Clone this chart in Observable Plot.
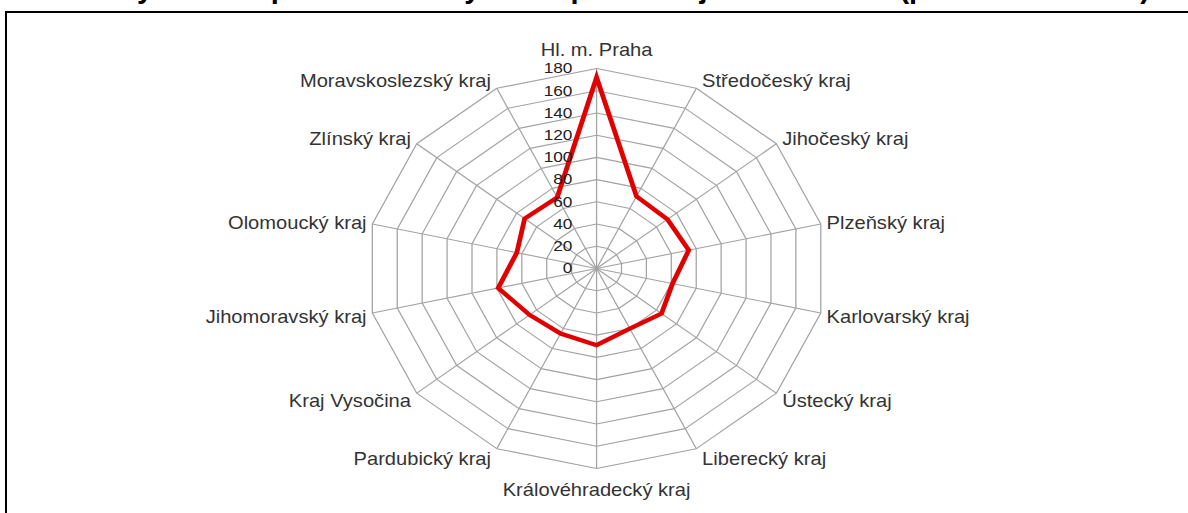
<!DOCTYPE html>
<html><head><meta charset="utf-8">
<script src="https://cdn.jsdelivr.net/npm/d3@7"></script>
<script src="https://cdn.jsdelivr.net/npm/@observablehq/plot@0.6"></script>
<style>
html,body{margin:0;padding:0;background:#fff;overflow:hidden;}
#wrap{position:relative;width:1188px;height:513px;overflow:hidden;background:#fff;}
#frame{position:absolute;left:5px;top:11px;width:1400px;height:700px;border-top:2px solid #000;border-left:2px solid #000;}
#title{position:absolute;left:0;top:0;overflow:hidden;}
#chart{position:absolute;left:0;top:0;transform:scaleX(1.15);transform-origin:0 0;}
</style></head><body>
<div id="wrap">
<div id="frame"></div>
<svg id="title" width="1188" height="11"><text x="1150" y="-2.5" text-anchor="end" font-family="Liberation Sans, Arial, sans-serif" font-weight="bold" font-size="29" fill="#000">Graf č. 1: Hrubý domácí produkt na obyvatele podle krajů v roce 2010 (průměr ČR = 100)</text></svg>
<div id="chart"></div>
</div>
<script>
const regions = ["Hl. m. Praha","Středočeský kraj","Jihočeský kraj","Plzeňský kraj","Karlovarský kraj","Ústecký kraj","Liberecký kraj","Královéhradecký kraj","Pardubický kraj","Kraj Vysočina","Jihomoravský kraj","Olomoucký kraj","Zlínský kraj","Moravskoslezský kraj"];
const values = [172, 72, 71, 74, 61, 65, 60, 69, 65, 67, 79, 64, 72, 71];
const ticks = [0, 20, 40, 60, 80, 100, 120, 140, 160, 180];
const maxValue = 180;

const stretch = 1.15;
const W = 1188 / stretch;
const cx = 596 / stretch, cy = 268, R = 200;
const unit = R / maxValue; // px per data unit
const n = regions.length;
const ang = i => i * 2 * Math.PI / n;
const pt = (i, v) => ({x: v * Math.sin(ang(i)), y: v * Math.cos(ang(i))});

const rings = ticks.filter(t => t > 0).flatMap(t => regions.map((r, i) => ({...pt(i, t), ring: t})));
const series = regions.map((r, i) => ({...pt(i, values[i]), name: r}));

function labelPos(i) {
  const s = Math.sin(ang(i)), c = Math.cos(ang(i));
  const p = pt(i, maxValue);
  const side = Math.abs(s) < 0.1 ? 0 : Math.sign(s);
  const dyPx = side === 0 ? (-c * 20 + 2) : (-c * 10 + 2);
  return {x: p.x + side * 5 / unit, y: p.y - dyPx / unit, side};
}
const labels = regions.map((r, i) => ({name: r, ...labelPos(i)}));

const font = "Liberation Sans, Arial, sans-serif";
const chart = Plot.plot({
  width: W,
  height: 513,
  margin: 0,
  style: {fontFamily: font, background: "transparent", overflow: "visible"},
  x: {domain: [-maxValue, maxValue], range: [cx - R, cx + R], axis: null},
  y: {domain: [-maxValue, maxValue], range: [cy + R, cy - R], axis: null},
  marks: [
    Plot.link(regions, {x1: d => 0, y1: d => 0, x2: (d, i) => pt(i, maxValue).x, y2: (d, i) => pt(i, maxValue).y, stroke: "#a3a3a3", strokeWidth: 1.1}),
    Plot.line(rings, {x: "x", y: "y", z: "ring", curve: "linear-closed", stroke: "#a3a3a3", strokeWidth: 1.1}),
    Plot.line(series, {x: "x", y: "y", curve: "linear-closed", stroke: "#e00000", strokeWidth: 4.2, strokeLinejoin: "miter", strokeMiterlimit: 10}),
    Plot.text(ticks, {x: d => 0, y: d => d, text: d => String(d), textAnchor: "end", dx: -21, fontSize: 15, fill: "#222"}),
    Plot.text(labels.filter(d => d.side > 0), {x: "x", y: "y", text: "name", textAnchor: "start", fontSize: 17.5, fill: "#333"}),
    Plot.text(labels.filter(d => d.side < 0), {x: "x", y: "y", text: "name", textAnchor: "end", fontSize: 17.5, fill: "#333"}),
    Plot.text(labels.filter(d => d.side === 0), {x: "x", y: "y", text: "name", textAnchor: "middle", fontSize: 17.5, fill: "#333"})
  ]
});
document.getElementById("chart").appendChild(chart);
</script>
</body></html>
